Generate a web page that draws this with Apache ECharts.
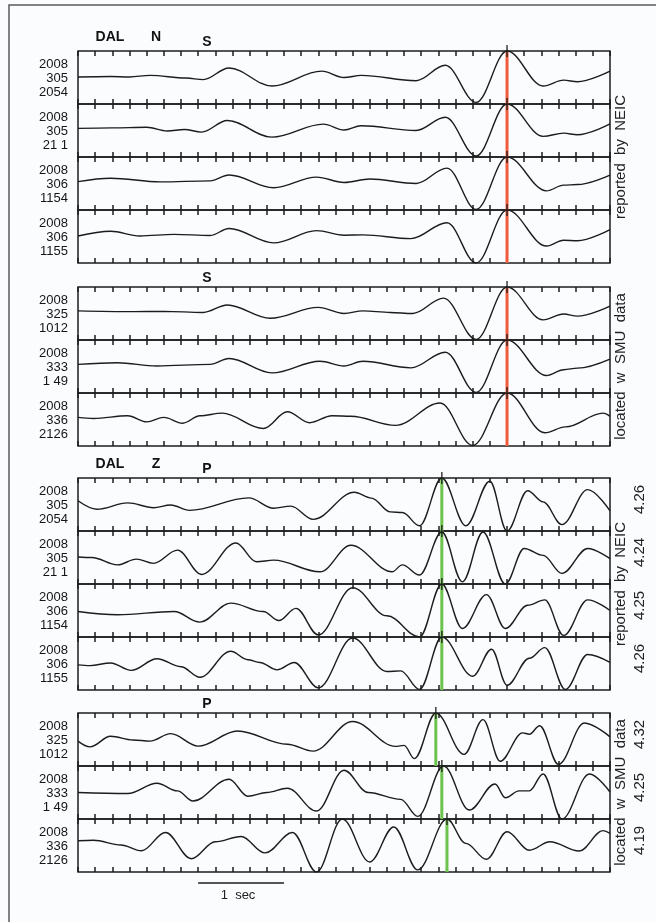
<!DOCTYPE html>
<html>
<head>
<meta charset="utf-8">
<script src="https://cdn.jsdelivr.net/npm/echarts@6/dist/echarts.min.js"></script>
</head>
<body style="margin:0;background:#fbfcfe">
<div id="main" style="width:656px;height:922px;"></div>
<script>
// station DAL, horizontal N (S phase) and vertical Z (P phase) records
// each trace: turning points [time in ticks, amplitude 0 (bottom line) .. 1 (top line)]
var n2054 = [[0,0.51],[1.9,0.52],[3,0.51],[4.2,0.54],[6.3,0.49],[7.3,0.46],[8.8,0.68],[11.3,0.34],[14.2,0.62],[15.5,0.5],[16.5,0.54],[19.7,0.44],[21.4,0.73],[23.2,0.03],[25,1.0],[27.1,0.34],[28.3,0.45],[29.1,0.42],[31,0.62]];
var n2101 = [[0,0.54],[2,0.55],[4,0.56],[5.2,0.49],[6.2,0.52],[7.2,0.47],[8.7,0.69],[11.3,0.375],[14.3,0.62],[15.5,0.51],[16.5,0.59],[19.7,0.5],[21.4,0.75],[23.2,0.02],[25,1.0],[27.1,0.39],[28.3,0.45],[29.1,0.42],[31,0.625]];
var n1154 = [[0,0.535],[1.9,0.6],[4.8,0.53],[7.7,0.55],[8.8,0.66],[11.4,0.42],[13.9,0.62],[15.5,0.52],[17,0.585],[19.7,0.5],[21.5,0.79],[23.2,0.01],[25,1.0],[27.3,0.36],[28.3,0.47],[29.1,0.48],[31,0.66]];
var n1155 = [[0,0.51],[1.9,0.6],[3.6,0.51],[5.6,0.54],[7.7,0.52],[8.8,0.65],[11.4,0.38],[13.9,0.61],[15.5,0.525],[16.6,0.53],[19.4,0.46],[21.5,0.76],[23.2,0.0],[25,1.0],[27.3,0.32],[28.3,0.43],[29.1,0.42],[31,0.63]];
var n1012 = [[0,0.55],[3.2,0.535],[5,0.54],[7.3,0.52],[8.7,0.66],[11.2,0.41],[14,0.615],[15.5,0.5],[16.6,0.55],[18.2,0.52],[19.5,0.5],[21.3,0.79],[23.2,0.01],[25,1.0],[27.1,0.38],[28.3,0.49],[29.1,0.45],[31,0.64]];
var n0149 = [[0,0.54],[2.3,0.57],[4.6,0.51],[7.7,0.54],[8.8,0.65],[11.3,0.38],[14.1,0.6],[15.5,0.51],[16.6,0.6],[19.4,0.475],[21.4,0.77],[23.2,0.01],[25,1.0],[27.3,0.33],[28.3,0.44],[29.1,0.47],[31,0.64]];
var n2126 = [[0,0.54],[0.9,0.52],[2.9,0.57],[4,0.455],[5,0.54],[6.1,0.43],[7.1,0.57],[8.4,0.62],[10.8,0.33],[12.2,0.645],[13.5,0.44],[14.8,0.57],[15.9,0.56],[18.5,0.39],[21.1,0.81],[23,0.01],[25,1.0],[27.2,0.25],[28.4,0.36],[30.6,0.62],[31,0.56]];

var z2054 = [[0,0.57],[1.1,0.41],[2.9,0.53],[4.4,0.44],[5.4,0.49],[6.5,0.39],[9.95,0.625],[11.4,0.43],[12.4,0.47],[13.7,0.22],[16.1,0.73],[17.1,0.62],[18.2,0.36],[18.9,0.35],[19.9,0.1],[21.2,1.0],[22.6,0.1],[24,0.94],[25,0.0],[26.2,0.76],[27.1,0.55],[28.2,0.12],[29.7,0.78],[31,0.38]];
var z2101 = [[0,0.51],[0.8,0.5],[2.3,0.36],[3.4,0.47],[4.4,0.39],[5.8,0.64],[7.2,0.18],[9.2,0.775],[10.4,0.42],[11.4,0.45],[14.1,0.23],[15.9,0.73],[18.3,0.23],[18.9,0.36],[19.9,0.17],[21.2,0.98],[22.4,0.04],[23.6,0.98],[24.9,0.0],[26,0.67],[27.1,0.54],[28.2,0.2],[29.7,0.67],[31,0.48]];
var z1154 = [[0,0.48],[2.3,0.42],[5.6,0.48],[7.1,0.28],[8.9,0.64],[10.8,0.48],[11.7,0.31],[12.7,0.54],[14,0.04],[16,0.93],[18,0.4],[19.9,0.0],[21.2,1.0],[22.4,0.16],[23.8,0.8],[24.9,0.16],[26.2,0.6],[27.2,0.7],[28.3,0.03],[29.7,0.7],[31,0.5]];
var z1155 = [[0,0.475],[0.7,0.46],[1.9,0.51],[3.1,0.37],[4.6,0.59],[6,0.44],[7.1,0.24],[8.9,0.73],[9.9,0.57],[10.6,0.52],[11.6,0.38],[12.6,0.52],[14,0.04],[16,0.98],[18,0.35],[18.8,0.36],[19.9,0.01],[21.2,1.0],[23,0.26],[24.1,0.77],[25,0.09],[26.3,0.6],[27.2,0.8],[28.4,0.01],[29.7,0.67],[31,0.52]];
var z1012 = [[0,0.47],[0.7,0.36],[1.9,0.56],[3.2,0.49],[4.2,0.47],[5.4,0.61],[7,0.375],[9.3,0.66],[12.2,0.41],[13.7,0.28],[16,0.84],[18.5,0.37],[19,0.39],[19.6,0.14],[20.85,1.0],[22.5,0.22],[23.6,0.875],[24.6,0.09],[25.9,0.625],[26.3,0.6],[26.9,0.76],[28,0.03],[29.5,0.81],[31,0.55]];
var z0149 = [[0,0.5],[2.9,0.48],[4.6,0.675],[5.8,0.53],[6.7,0.34],[8.8,0.75],[9.9,0.43],[11,0.5],[12.2,0.58],[13.9,0.15],[15.5,0.92],[16.9,0.5],[18.8,0.37],[19.8,0.05],[21.3,1.0],[22.8,0.17],[24.3,0.66],[24.9,0.4],[25.7,0.53],[26.3,0.53],[27.1,0.85],[28.2,0.0],[29.8,0.85],[31,0.51]];
var z2126 = [[0,0.59],[0.9,0.6],[2.5,0.51],[3.7,0.4],[5.1,0.745],[6.6,0.25],[8,0.57],[9.5,0.67],[10.9,0.36],[12.5,0.745],[13.9,0.0],[15.4,1.0],[17,0.19],[18.4,0.85],[19.8,0.04],[21.5,1.0],[22.6,0.54],[23.8,0.24],[25,0.76],[26.3,0.41],[27.5,0.57],[29.2,0.395],[30.6,0.78],[31,0.73]];

var traces = [n2054, n2101, n1154, n1155, n1012, n0149, n2126,
              z2054, z2101, z1154, z1155, z1012, z0149, z2126];
var traceLabels = ['2008\n305\n2054', '2008\n305\n21 1', '2008\n306\n1154', '2008\n306\n1155',
                   '2008\n325\n1012', '2008\n333\n1 49', '2008\n336\n2126'];
var picks = [25, 25, 25, 25, 25, 25, 25, 21.2, 21.2, 21.2, 21.2, 20.85, 21.2, 21.5];
var magnitudes = ['', '', '', '', '', '', '', '4.26', '4.24', '4.25', '4.26', '4.32', '4.25', '4.19'];
var panelTitles = ['S', 'S', 'P', 'P'];
var panelNotes = ['reported  by  NEIC', 'located  w  SMU  data', 'reported  by  NEIC', 'located  w  SMU  data'];

var panelTop = [51, 287, 478, 713];
var panelSize = [4, 3, 4, 3];
var traceH = 53;
var ink = '#1c1c1c';
var font = '"Liberation Sans", Arial, sans-serif';

var chart = echarts.init(document.getElementById('main'));

var grids = [], xAxes = [], yAxes = [], series = [], graphics = [];
var tops = [];
for (var p = 0; p < 4; p++) {
    for (var t = 0; t < panelSize[p]; t++) {
        tops.push(panelTop[p] + t * traceH);
    }
}

for (var i = 0; i < traces.length; i++) {
    grids.push({
        left: 78, width: 532, top: tops[i], height: traceH,
        show: true, borderColor: ink, borderWidth: 1.5, backgroundColor: 'transparent'
    });
    ['bottom', 'top'].forEach(function (pos) {
        xAxes.push({
            type: 'value', gridIndex: i, position: pos, min: 0, max: 31, interval: 1,
            axisLine: {show: false},
            axisTick: {show: true, inside: true, length: 5, lineStyle: {color: ink, width: 1.5}},
            axisLabel: {show: false}, splitLine: {show: false}
        });
    });
    yAxes.push({type: 'value', gridIndex: i, min: 0, max: 1, show: false});

    var pickColor = i < 7 ? '#ef5b3b' : '#6cc44c';
    series.push({
        type: 'line', xAxisIndex: 2 * i, yAxisIndex: i, z: 2,
        data: [[picks[i], 0], [picks[i], 1]], symbol: 'none',
        lineStyle: {color: pickColor, width: 3}, silent: true
    });
    series.push({
        type: 'line', xAxisIndex: 2 * i, yAxisIndex: i, z: 3,
        data: traces[i], smooth: 0.36, smoothMonotone: 'x', symbol: 'none',
        lineStyle: {color: ink, width: 1.4}, silent: true
    });
    series.push({
        type: 'scatter', xAxisIndex: 2 * i, yAxisIndex: i, z: 4,
        data: [[picks[i], 1]], symbol: 'rect', symbolSize: [1.6, 12],
        itemStyle: {color: ink}, silent: true
    });

    var mid = tops[i] + traceH / 2;
    graphics.push({
        type: 'text', x: 68, y: mid + 1,
        style: {text: traceLabels[i % 7], font: '13px ' + font,
                fill: '#151515', textAlign: 'right', textVerticalAlign: 'middle', lineHeight: 14}
    });
    if (magnitudes[i]) {
        graphics.push({
            type: 'text', x: 640, y: mid - 5, rotation: Math.PI / 2,
            style: {text: magnitudes[i], font: '15px ' + font,
                    fill: '#222', textAlign: 'center', textVerticalAlign: 'middle'}
        });
    }
}

for (var p = 0; p < 4; p++) {
    var bottom = panelTop[p] + panelSize[p] * traceH;
    graphics.push({
        type: 'text', x: 207, y: panelTop[p] - 9,
        style: {text: panelTitles[p], font: 'bold 14px ' + font,
                fill: '#111', textAlign: 'center', textVerticalAlign: 'middle'}
    });
    graphics.push({
        type: 'text', x: 621, y: (panelTop[p] + bottom) / 2, rotation: Math.PI / 2,
        style: {text: panelNotes[p], font: '15px ' + font,
                fill: '#222', textAlign: 'center', textVerticalAlign: 'middle'}
    });
}
[['DAL', 110, 37], ['N', 156, 37], ['DAL', 110, 464], ['Z', 156, 464]].forEach(function (h) {
    graphics.push({
        type: 'text', x: h[1], y: h[2],
        style: {text: h[0], font: 'bold 14px ' + font,
                fill: '#111', textAlign: 'center', textVerticalAlign: 'middle'}
    });
});
// outer frame
graphics.push({
    type: 'rect', shape: {x: 9, y: 5, width: 700, height: 960},
    style: {fill: null, stroke: '#5a5a5a', lineWidth: 1.5}, z: -1
});

chart.setOption({
    backgroundColor: '#fbfcfe',
    animation: false,
    grid: grids,
    xAxis: xAxes,
    yAxis: yAxes,
    series: series,
    graphic: graphics
});

// 1 sec scale bar = 5 ticks, under the last trace
var last = traces.length - 1;
var x0 = chart.convertToPixel({xAxisIndex: 2 * last}, 7);
var x1 = chart.convertToPixel({xAxisIndex: 2 * last}, 12);
graphics.push({
    type: 'line', shape: {x1: x0, y1: 883, x2: x1, y2: 883},
    style: {stroke: ink, lineWidth: 1.4}
});
graphics.push({
    type: 'text', x: (x0 + x1) / 2 - 3, y: 895,
    style: {text: '1  sec', font: '13px ' + font,
            fill: '#222', textAlign: 'center', textVerticalAlign: 'middle'}
});
chart.setOption({graphic: graphics});
</script>
</body>
</html>
